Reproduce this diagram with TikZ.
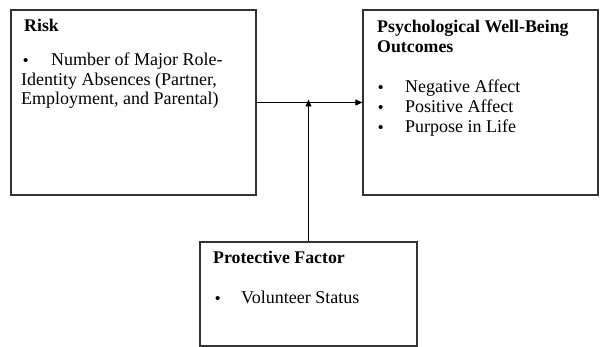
\documentclass[tikz,border=0pt]{standalone}
\usepackage{fontspec}
\setmainfont{Liberation Serif}
\usetikzlibrary{arrows.meta}
\tikzset{
  box/.style={draw=black!80, line width=1.2pt, rectangle, inner sep=0pt},
  txt/.style={anchor=base west, inner sep=0pt, font=\fontsize{18}{19}\selectfont},
  ttl/.style={txt, font=\fontsize{17.8}{19}\selectfont\bfseries},
  blt/.style={anchor=base west, inner sep=0pt, font=\fontsize{15}{16}\selectfont\bfseries},
  conn/.style={line width=0.8pt, -{Triangle[length=7pt,width=6pt]}}
}
\begin{document}
\begin{tikzpicture}[x=1pt,y=-1pt]
\useasboundingbox (0,0) rectangle (603,347);
% boxes
\node[box, minimum width=245pt, minimum height=185pt] (risk) at (133.5,102.5) {};
\node[box, minimum width=235pt, minimum height=185pt] (psych) at (480.5,102.5) {};
\node[box, minimum width=217pt, minimum height=104pt] (prot) at (308.5,294) {};
% risk text
\node[ttl] (rt) at (24,32) {Risk};
\node[blt] (rb1) at (23,66) {•};
\node[txt] (r1) at (51,66) {Number of Major Role-};
\node[txt] (r2) at (21,85.5) {Identity Absences (Partner,};
\node[txt] (r3) at (21,105) {Employment, and Parental)};
% psych text
\node[ttl] (pt1) at (377,33) {Psychological Well-Being};
\node[ttl] (pt2) at (377,53) {Outcomes};
\node[blt] (pb1) at (378,93) {•};
\node[txt] (p1) at (405,93) {Negative Affect};
\node[blt] (pb2) at (378,113) {•};
\node[txt] (p2) at (405,113) {Positive Affect};
\node[blt] (pb3) at (378,133) {•};
\node[txt] (p3) at (405,133) {Purpose in Life};
% protective text
\node[ttl] (ft) at (213,264) {Protective Factor};
\node[blt] (fb1) at (215,304) {•};
\node[txt] (f1) at (241,304) {Volunteer Status};
% connectors
\coordinate (j) at ([yshift=3pt]prot.north |- risk.east);
\draw[conn] (risk.east) -- (psych.west);
\draw[conn] (prot.north) -- (j);
\end{tikzpicture}
\end{document}
